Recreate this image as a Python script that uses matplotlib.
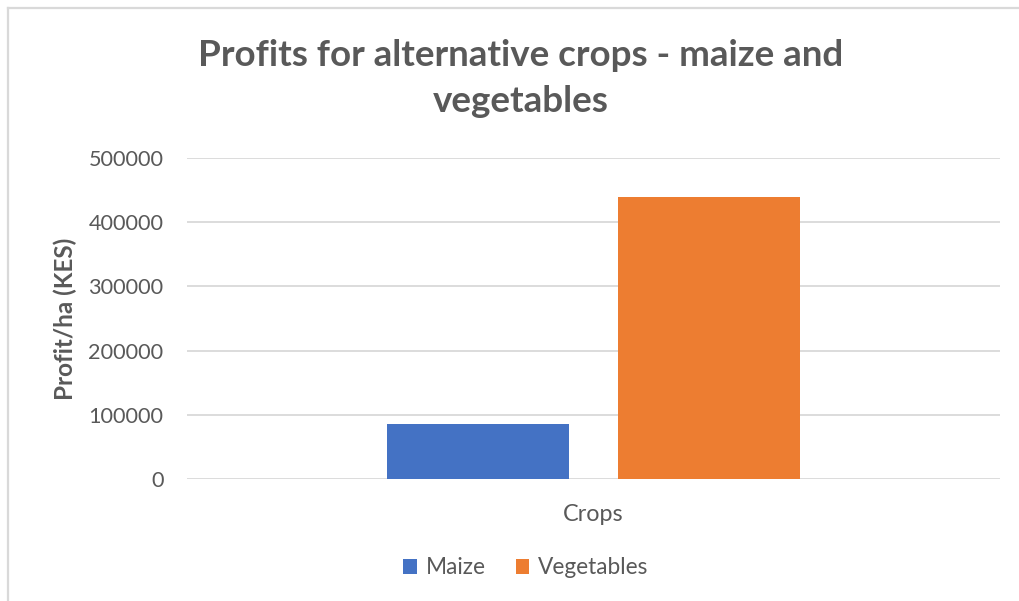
import matplotlib.pyplot as plt
from matplotlib.lines import Line2D

plt.rcParams['font.family'] = ['Lato', 'DejaVu Sans']

series = ['Maize', 'Vegetables']
profits = [86000, 439000]
colors = ['#4472C4', '#ED7D31']
category = 'Crops'

grey = '#595959'

fig = plt.figure(figsize=(10.2, 6.01), dpi=100)
ax = fig.add_axes([187/1020, 122/601, 813/1020, 321/601])

# outer chart border (partly cut off in the screenshot)
fig.add_artist(Line2D([8/1020, 8/1020], [0, 1 - 8/601], color='#d9d9d9', lw=1.6))
fig.add_artist(Line2D([8/1020, 1], [1 - 8/601, 1 - 8/601], color='#d9d9d9', lw=1.6))

width = 0.224
offsets = [-0.142, 0.142]
for name, val, col, off in zip(series, profits, colors, offsets):
    ax.bar(off, val, width=width, color=col, label=name, zorder=3)

ax.set_xlim(-0.5, 0.5)
ax.set_ylim(0, 500000)
ax.set_yticks(range(0, 500001, 100000))
ax.set_xticks([0])
ax.set_xticklabels([category])
ax.tick_params(axis='y', length=0, labelsize=15.6, colors=grey, pad=17)
ax.tick_params(axis='x', length=0, labelsize=16.8, colors=grey, pad=18)
ax.grid(axis='y', color='#d9d9d9', lw=1.3, zorder=0)
for s in ax.spines.values():
    s.set_visible(False)

ax.set_ylabel('Profit/ha (KES)', fontsize=17.5, fontweight='bold', color=grey)
ax.yaxis.set_label_coords(-0.135, 0.5)

fig.text(521/1020, 1 - 55/601, 'Profits for alternative crops - maize and',
         ha='center', va='center', fontsize=26.5, fontweight='bold', color=grey)
fig.text(521/1020, 1 - 101/601, 'vegetables',
         ha='center', va='center', fontsize=26.5, fontweight='bold', color=grey)

fig.legend(loc='center', bbox_to_anchor=(526/1020, 1 - 568/601), ncol=2, frameon=False,
           fontsize=16.3, labelcolor=grey, handlelength=0.6, handleheight=0.6,
           columnspacing=1.3, handletextpad=0.4)

fig.savefig('out.png', dpi=100)
